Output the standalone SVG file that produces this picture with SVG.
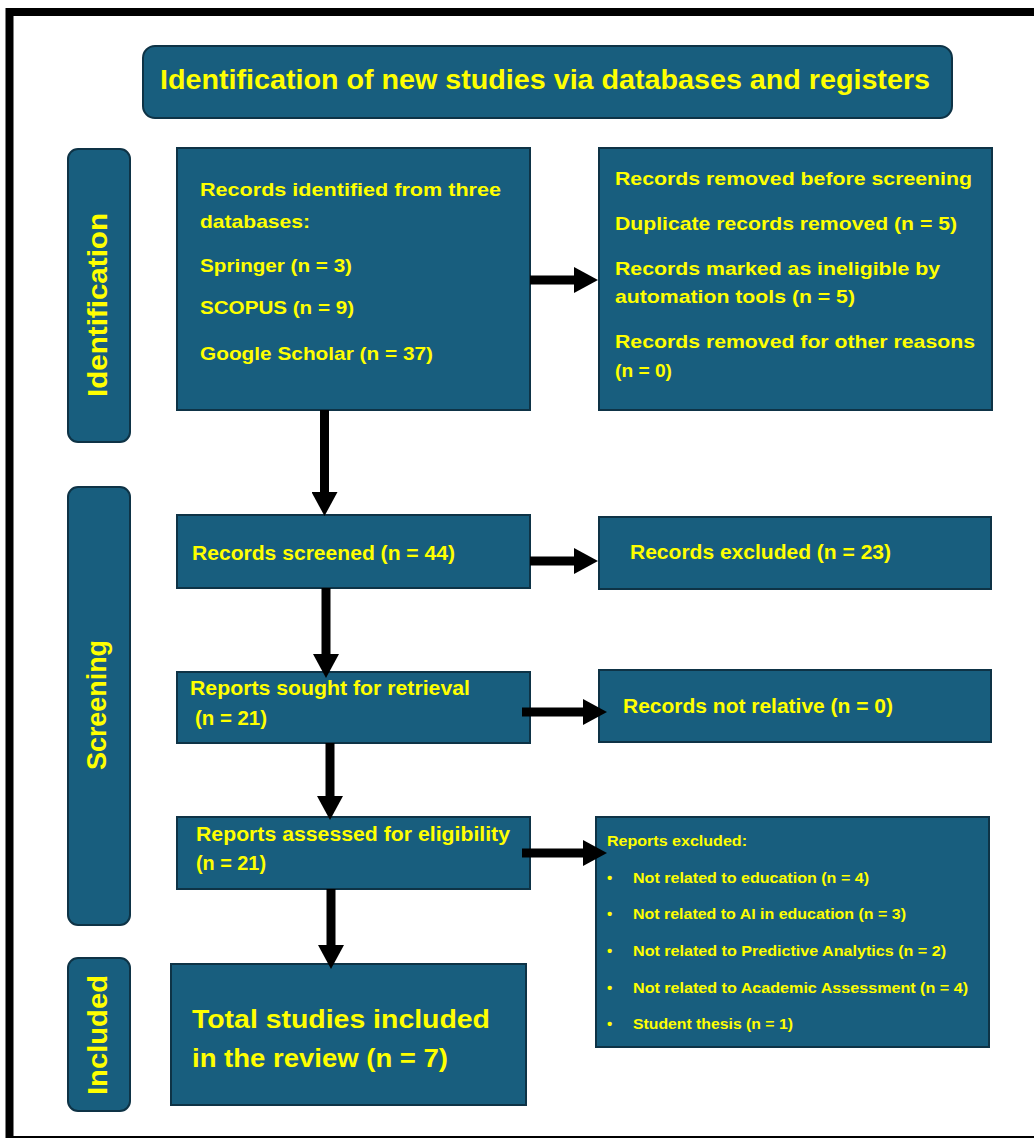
<svg xmlns="http://www.w3.org/2000/svg" width="1034" height="1138" viewBox="0 0 1034 1138">
<defs>
<style>
.box{fill:#185e7e;stroke:#0e3346;stroke-width:2}
.t{font-family:"Liberation Sans",Arial,sans-serif;font-weight:bold;fill:#ffff00}
.s19{font-size:19px}
.s20{font-size:20px}
.s15{font-size:15px}
.s27{font-size:27px}
.conn line{stroke:#000;stroke-width:9}
</style>
<marker id="ah" markerUnits="userSpaceOnUse" markerWidth="24" markerHeight="26" refX="1" refY="13" orient="auto">
<path d="M0,0 L24,13 L0,26 Z" fill="#000"/>
</marker>
</defs>
<rect x="0" y="0" width="1034" height="1138" fill="#fff"/>
<rect x="9.5" y="12" width="1040" height="1128" fill="none" stroke="#000" stroke-width="8"/>

<g id="title">
<rect class="box" x="143" y="46" width="809" height="72" rx="12"/>
<text class="t s27" x="160" y="89" textLength="770" lengthAdjust="spacingAndGlyphs">Identification of new studies via databases and registers</text>
</g>

<g id="phase-identification">
<rect class="box" x="68" y="149" width="62" height="293" rx="10"/>
<text class="t s27" transform="translate(107,305) rotate(-90)" text-anchor="middle" textLength="184" lengthAdjust="spacingAndGlyphs">Identification</text>
</g>
<g id="phase-screening">
<rect class="box" x="68" y="487" width="62" height="438" rx="10"/>
<text class="t s27" transform="translate(106,705) rotate(-90)" text-anchor="middle" textLength="130" lengthAdjust="spacingAndGlyphs">Screening</text>
</g>
<g id="phase-included">
<rect class="box" x="68" y="958" width="62" height="153" rx="10"/>
<text class="t s27" transform="translate(107,1035) rotate(-90)" text-anchor="middle" textLength="120" lengthAdjust="spacingAndGlyphs">Included</text>
</g>

<g id="records-identified">
<rect class="box" x="177" y="148" width="353" height="262"/>
<text class="t s19" x="200" y="196" textLength="301" lengthAdjust="spacingAndGlyphs">Records identified from three</text>
<text class="t s19" x="200" y="228" textLength="110" lengthAdjust="spacingAndGlyphs">databases:</text>
<text class="t s19" x="200" y="272" textLength="152" lengthAdjust="spacingAndGlyphs">Springer (n = 3)</text>
<text class="t s19" x="200" y="314" textLength="154" lengthAdjust="spacingAndGlyphs">SCOPUS (n = 9)</text>
<text class="t s19" x="200" y="360" textLength="233" lengthAdjust="spacingAndGlyphs">Google Scholar (n = 37)</text>
</g>

<g id="records-removed">
<rect class="box" x="599" y="148" width="393" height="262"/>
<text class="t s19" x="615" y="185" textLength="357" lengthAdjust="spacingAndGlyphs">Records removed before screening</text>
<text class="t s19" x="615" y="230" textLength="342" lengthAdjust="spacingAndGlyphs">Duplicate records removed (n = 5)</text>
<text class="t s19" x="615" y="275" textLength="325" lengthAdjust="spacingAndGlyphs">Records marked as ineligible by</text>
<text class="t s19" x="615" y="303" textLength="240" lengthAdjust="spacingAndGlyphs">automation tools (n = 5)</text>
<text class="t s19" x="615" y="348" textLength="360" lengthAdjust="spacingAndGlyphs">Records removed for other reasons</text>
<text class="t s19" x="615" y="377" textLength="57" lengthAdjust="spacingAndGlyphs">(n = 0)</text>
</g>

<g id="records-screened">
<rect class="box" x="177" y="515" width="353" height="73"/>
<text class="t s20" x="192" y="560" textLength="263" lengthAdjust="spacingAndGlyphs">Records screened (n = 44)</text>
</g>

<g id="records-excluded">
<rect class="box" x="599" y="517" width="392" height="72"/>
<text class="t s20" x="630" y="559" textLength="261" lengthAdjust="spacingAndGlyphs">Records excluded (n = 23)</text>
</g>

<g id="reports-sought">
<rect class="box" x="177" y="672" width="353" height="71"/>
<text class="t s20" x="190" y="695" textLength="280" lengthAdjust="spacingAndGlyphs">Reports sought for retrieval</text>
<text class="t s20" x="195" y="725" textLength="72" lengthAdjust="spacingAndGlyphs">(n = 21)</text>
</g>

<g id="records-not-relative">
<rect class="box" x="599" y="670" width="392" height="72"/>
<text class="t s20" x="623" y="713" textLength="270" lengthAdjust="spacingAndGlyphs">Records not relative (n = 0)</text>
</g>

<g id="reports-assessed">
<rect class="box" x="177" y="817" width="353" height="72"/>
<text class="t s20" x="196" y="841" textLength="314" lengthAdjust="spacingAndGlyphs">Reports assessed for eligibility</text>
<text class="t s20" x="196" y="870" textLength="70" lengthAdjust="spacingAndGlyphs">(n = 21)</text>
</g>

<g id="reports-excluded">
<rect class="box" x="596" y="817" width="393" height="230"/>
<text class="t s15" x="607" y="846" textLength="140" lengthAdjust="spacingAndGlyphs">Reports excluded:</text>
<text class="t s15" y="883"><tspan x="607">•</tspan><tspan x="633" textLength="236" lengthAdjust="spacingAndGlyphs">Not related to education (n = 4)</tspan></text>
<text class="t s15" y="919"><tspan x="607">•</tspan><tspan x="633" textLength="273" lengthAdjust="spacingAndGlyphs">Not related to AI in education (n = 3)</tspan></text>
<text class="t s15" y="956"><tspan x="607">•</tspan><tspan x="633" textLength="313" lengthAdjust="spacingAndGlyphs">Not related to Predictive Analytics (n = 2)</tspan></text>
<text class="t s15" y="993"><tspan x="607">•</tspan><tspan x="633" textLength="335" lengthAdjust="spacingAndGlyphs">Not related to Academic Assessment (n = 4)</tspan></text>
<text class="t s15" y="1029"><tspan x="607">•</tspan><tspan x="633" textLength="160" lengthAdjust="spacingAndGlyphs">Student thesis (n = 1)</tspan></text>
</g>

<g id="total-included">
<rect class="box" x="171" y="964" width="355" height="141"/>
<text class="t" style="font-size:26.5px" x="192" y="1028" textLength="298" lengthAdjust="spacingAndGlyphs">Total studies included</text>
<text class="t" style="font-size:26.5px" x="192" y="1067" textLength="256" lengthAdjust="spacingAndGlyphs">in the review (n = 7)</text>
</g>

<g id="connectors" class="conn">
<line x1="324.5" y1="410" x2="324.5" y2="493" marker-end="url(#ah)"/>
<line x1="530" y1="280" x2="575" y2="280" marker-end="url(#ah)"/>
<line x1="530" y1="561" x2="575" y2="561" marker-end="url(#ah)"/>
<line x1="326" y1="588" x2="326" y2="655" marker-end="url(#ah)"/>
<line x1="522" y1="712" x2="584" y2="712" marker-end="url(#ah)"/>
<line x1="330" y1="743" x2="330" y2="797" marker-end="url(#ah)"/>
<line x1="522" y1="853" x2="584" y2="853" marker-end="url(#ah)"/>
<line x1="331" y1="889" x2="331" y2="946" marker-end="url(#ah)"/>
</g>
</svg>
